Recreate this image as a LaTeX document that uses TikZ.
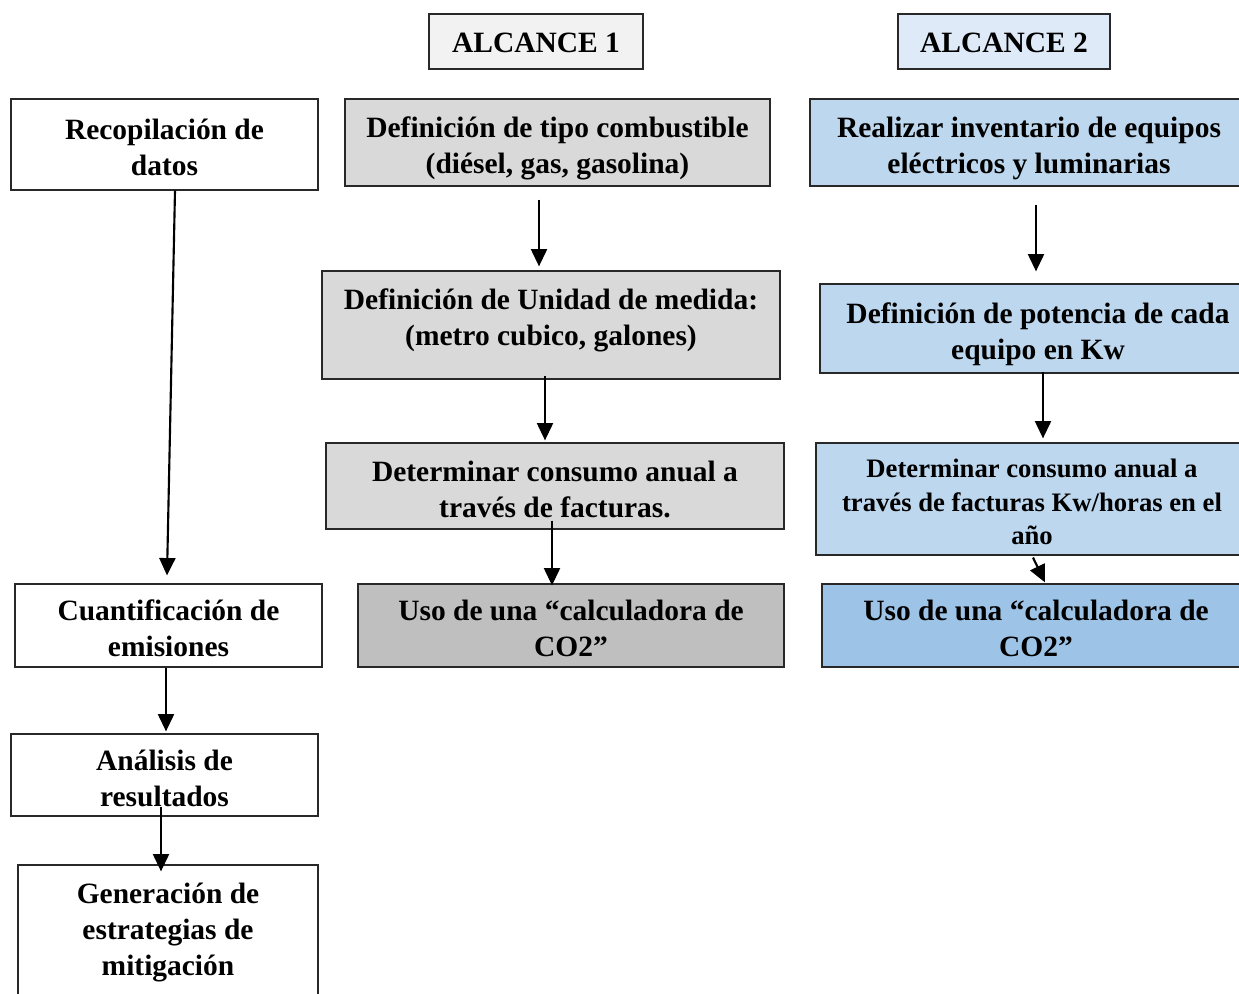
\documentclass[tikz,border=0pt]{standalone}
\usepackage{fontspec}
\setmainfont{Liberation Serif}
\usetikzlibrary{arrows.meta,calc}

\begin{document}
\begin{tikzpicture}[x=0.75pt,y=0.75pt,yscale=-1,xscale=1,
  caja/.style={draw={rgb, 255:red, 40; green, 40; blue, 40},line width=0.9pt,inner sep=0pt,align=center,
    text height=53pt,text depth=6pt,font=\fontsize{22.1}{27}\selectfont\bfseries},
  titulo/.style={caja,text height=22pt,minimum height=41.25pt},
  gris/.style={caja,fill={rgb, 255:red, 217; green, 217; blue, 217}},
  grisosc/.style={caja,fill={rgb, 255:red, 191; green, 191; blue, 191}},
  azul/.style={caja,fill={rgb, 255:red, 189; green, 215; blue, 238}},
  azulosc/.style={caja,fill={rgb, 255:red, 157; green, 195; blue, 230}},
  flecha/.style={line width=1.6pt,-{Triangle[width=12pt,length=13pt]}}]
%set diagram size
\useasboundingbox (0,0) rectangle (1239,994);

% Titles
\node [titulo,fill={rgb, 255:red, 242; green, 242; blue, 242},minimum width=160.5pt] (alc1) at (536,41.5) {ALCANCE 1};
\node [titulo,fill={rgb, 255:red, 222; green, 234; blue, 247},minimum width=159pt] (alc2) at (1004,41.5) {ALCANCE 2};

% Left column
\node [caja,fill=white,minimum width=230.25pt,minimum height=68.25pt] (recop) at (164.5,144.5) {Recopilación de\\datos};
\node [caja,fill=white,minimum width=230.25pt,minimum height=62.25pt] (cuant) at (168.5,625.5) {Cuantificación de\\emisiones};
\node [caja,fill=white,minimum width=230.25pt,minimum height=61.5pt] (anal) at (164.5,775) {Análisis de\\resultados};
\node [caja,fill=white,minimum width=225pt,minimum height=101.25pt,text height=82pt,text depth=17pt] (gen) at (168,932.5) {Generación de\\estrategias de\\mitigación};

% Alcance 1
\node [gris,minimum width=318.75pt,minimum height=65.25pt] (tipo) at (557.5,142.5) {Definición de tipo combustible\\(diésel, gas, gasolina)};
\node [gris,minimum width=343.5pt,minimum height=81pt,text depth=22pt] (unidad) at (551,325) {Definición de Unidad de medida:\\(metro cubico, galones)};
\node [gris,minimum width=343.5pt,minimum height=64.5pt] (det1) at (555,486) {Determinar consumo anual a\\través de facturas.};
\node [grisosc,minimum width=319.5pt,minimum height=62.25pt] (uso1) at (571,625.5) {Uso de una “calculadora de\\CO2”};

% Alcance 2
\node [azul,minimum width=328.5pt,minimum height=65.25pt] (inv) at (1029,142.5) {Realizar inventario de equipos\\eléctricos y luminarias};
\node [azul,minimum width=327pt,minimum height=66.75pt] (pot) at (1038,328.5) {Definición de potencia de cada\\equipo en Kw};
\node [azul,minimum width=324pt,minimum height=84pt,text height=74pt,text depth=5.5pt,font=\fontsize{20}{25}\selectfont\bfseries] (det2) at (1032,499) {Determinar consumo anual a\\través de facturas Kw/horas en el\\año};
\node [azulosc,minimum width=321pt,minimum height=62.25pt] (uso2) at (1036,625.5) {Uso de una “calculadora de\\CO2”};

% Arrows
\draw [flecha] ($(recop.south)+(10.5,0)$) -- ($(cuant.north)+(-1.5,-8)$);
\draw [flecha] ($(cuant.south)+(-2.5,0)$) -- ($(anal.north)+(1.5,-2)$);
\draw [flecha] ($(anal.south)+(-3.5,-10)$) -- ($(gen.north)+(-7,7)$);
\draw [flecha] ($(tipo.south)+(-18.5,13)$) -- ($(unidad.north)+(-12,-4)$);
\draw [flecha] ($(unidad.south)+(-6,-4)$) -- ($(det1.north)+(-10,-2)$);
\draw [flecha] ($(det1.south)+(-3,-9)$) -- ($(uso1.north)+(-19,2)$);
\draw [flecha] ($(inv.south)+(7,18)$) -- ($(pot.north)+(-2,-12)$);
\draw [flecha] ($(pot.south)+(5,-2)$) -- ($(det2.north)+(11,-4)$);
\draw [flecha] ($(det2.south)+(1,2)$) -- ($(uso2.north)+(9,-1)$);

\end{tikzpicture}
\end{document}
